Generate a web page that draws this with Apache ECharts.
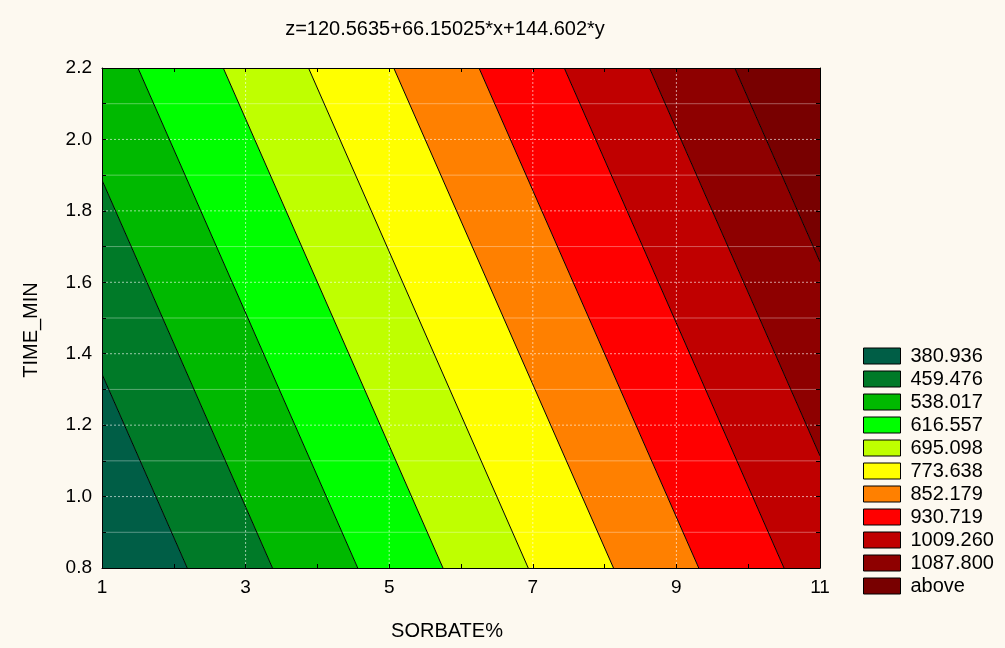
<!DOCTYPE html>
<html>
<head>
<meta charset="utf-8">
<script src="https://cdn.jsdelivr.net/npm/echarts@6/dist/echarts.min.js"></script>
<style>
html,body{margin:0;padding:0;background:#FDF9F0;}
#chart{width:1005px;height:648px;}
</style>
</head>
<body>
<div id="chart"></div>
<script>
// ---- data ----
const titleText = 'z=120.5635+66.15025*x+144.602*y';
const coefConst = 120.5635;
const coefX = 66.15025;
const coefY = 144.602;
const xRange = [1, 11];
const yRange = [0.8, 2.2];
const levels = [380.936, 459.476, 538.017, 616.557, 695.098, 773.638, 852.179, 930.719, 1009.260, 1087.800];
const levelLabels = ['380.936', '459.476', '538.017', '616.557', '695.098', '773.638', '852.179', '930.719', '1009.260', '1087.800', 'above'];
const bandColors = ['#005E46', '#007A28', '#00B900', '#00FF00', '#BFFF00', '#FFFF00', '#FF8000', '#FF0000', '#C00000', '#8E0000', '#780000'];
const xLabelValues = [1, 3, 5, 7, 9, 11];
const yLabelValues = ['0.8', '1.0', '1.2', '1.4', '1.6', '1.8', '2.0', '2.2'];
const xMajorGrid = [3, 5, 7, 9];
const yMajorGrid = [1.0, 1.2, 1.4, 1.6, 1.8, 2.0];
const yMinorGrid = [0.9, 1.1, 1.3, 1.5, 1.7, 1.9, 2.1];
const xName = 'SORBATE%';
const yName = 'TIME_MIN';

const FONT = '"Liberation Sans", Arial, sans-serif';

function zOf(p) { return coefConst + coefX * p[0] + coefY * p[1]; }

function clipHalf(poly, f) {
  const out = [];
  for (let i = 0; i < poly.length; i++) {
    const a = poly[i], b = poly[(i + 1) % poly.length];
    const fa = f(a), fb = f(b);
    if (fa >= 0) out.push(a);
    if ((fa >= 0) !== (fb >= 0)) {
      const t = fa / (fa - fb);
      out.push([a[0] + t * (b[0] - a[0]), a[1] + t * (b[1] - a[1])]);
    }
  }
  return out;
}

function bandPolygon(i) {
  let poly = [[xRange[0], yRange[0]], [xRange[1], yRange[0]], [xRange[1], yRange[1]], [xRange[0], yRange[1]]];
  const lo = i === 0 ? -Infinity : levels[i - 1];
  const hi = i < levels.length ? levels[i] : Infinity;
  if (isFinite(lo)) poly = clipHalf(poly, p => zOf(p) - lo);
  if (isFinite(hi)) poly = clipHalf(poly, p => hi - zOf(p));
  return poly;
}

function levelSegment(l) {
  const pts = [];
  [xRange[0], xRange[1]].forEach(x => {
    const y = (l - coefConst - coefX * x) / coefY;
    if (y >= yRange[0] && y <= yRange[1]) pts.push([x, y]);
  });
  [yRange[0], yRange[1]].forEach(y => {
    const x = (l - coefConst - coefY * y) / coefX;
    if (x > xRange[0] && x < xRange[1]) pts.push([x, y]);
  });
  return pts;
}

const series = [];
levelLabels.forEach((name, i) => {
  series.push({
    type: 'custom',
    name: name,
    coordinateSystem: 'cartesian2d',
    clip: true,
    z: 1,
    silent: true,
    itemStyle: { color: bandColors[i] },
    data: [[xRange[0], yRange[0]]],
    renderItem: function (params, api) {
      const poly = bandPolygon(i);
      if (poly.length < 3) return null;
      return {
        type: 'polygon',
        shape: { points: poly.map(p => api.coord(p)) },
        style: { fill: bandColors[i], stroke: null }
      };
    }
  });
});

// grid lines over the fill
const gridData = [];
xMajorGrid.forEach(v => gridData.push([v, 0, 1]));
yMajorGrid.forEach(v => gridData.push([v, 1, 1]));
yMinorGrid.forEach(v => gridData.push([v, 1, 0]));
series.push({
  type: 'custom',
  name: '_grid',
  coordinateSystem: 'cartesian2d',
  clip: true,
  z: 2,
  silent: true,
  data: gridData,
  renderItem: function (params, api) {
    const v = api.value(0), dir = api.value(1), major = api.value(2);
    let a, b;
    if (dir === 0) { a = api.coord([v, yRange[0]]); b = api.coord([v, yRange[1]]); }
    else { a = api.coord([xRange[0], v]); b = api.coord([xRange[1], v]); }
    return {
      type: 'line',
      shape: { x1: a[0], y1: a[1], x2: b[0], y2: b[1] },
      style: major ? { stroke: 'rgba(255,255,255,0.6)', lineWidth: 1, lineDash: [2, 2] }
                   : { stroke: 'rgba(255,255,255,0.35)', lineWidth: 1 }
    };
  }
});

// contour lines
series.push({
  type: 'custom',
  name: '_contours',
  coordinateSystem: 'cartesian2d',
  clip: true,
  z: 3,
  silent: true,
  data: levels.map(l => [l, 0]),
  renderItem: function (params, api) {
    const seg = levelSegment(levels[params.dataIndex]);
    if (seg.length < 2) return null;
    const a = api.coord(seg[0]), b = api.coord(seg[1]);
    return {
      type: 'line',
      shape: { x1: a[0], y1: a[1], x2: b[0], y2: b[1] },
      style: { stroke: '#000', lineWidth: 1 }
    };
  }
});

const axisCommon = {
  type: 'value',
  z: 10,
  axisLine: { show: true, onZero: false, lineStyle: { color: '#000', width: 1 } },
  axisTick: { show: true, inside: true, length: 4, lineStyle: { color: '#000' } },
  splitLine: { show: false }
};

const option = {
  backgroundColor: '#FDF9F0',
  animation: false,
  grid: { left: 102, top: 68, right: 185, bottom: 80, show: false },
  xAxis: [
    Object.assign({}, axisCommon, {
      position: 'bottom', min: xRange[0], max: xRange[1], interval: 1,
      axisLabel: {
        show: true, margin: 10, color: '#000', fontSize: 19, fontFamily: FONT,
        formatter: v => (xLabelValues.indexOf(Math.round(v)) >= 0 ? String(Math.round(v)) : '')
      }
    }),
    Object.assign({}, axisCommon, {
      position: 'top', min: xRange[0], max: xRange[1], interval: 1,
      axisLabel: { show: false }
    })
  ],
  yAxis: [
    Object.assign({}, axisCommon, {
      position: 'left', min: yRange[0], max: yRange[1], interval: 0.1,
      axisLabel: {
        show: true, margin: 10, color: '#000', fontSize: 19, fontFamily: FONT,
        formatter: v => { const s = v.toFixed(1); return yLabelValues.indexOf(s) >= 0 ? s : ''; }
      }
    }),
    Object.assign({}, axisCommon, {
      position: 'right', min: yRange[0], max: yRange[1], interval: 0.1,
      axisLabel: { show: false }
    })
  ],
  legend: {
    orient: 'vertical',
    left: 863,
    top: 346,
    padding: 0,
    itemWidth: 37,
    itemHeight: 16,
    itemGap: 3,
    icon: 'rect',
    selectedMode: false,
    data: levelLabels.map(n => ({ name: n, icon: 'rect' })),
    itemStyle: { borderColor: '#000', borderWidth: 1 },
    textStyle: { color: '#000', fontSize: 20, fontFamily: FONT, padding: [0, 0, 0, 5] }
  },
  graphic: [
    { type: 'text', z: 20, x: 445, y: 29,
      style: { text: titleText, textAlign: 'center', textVerticalAlign: 'middle', fill: '#000', font: '20px ' + FONT } },
    { type: 'text', z: 20, x: 447, y: 631,
      style: { text: xName, textAlign: 'center', textVerticalAlign: 'middle', fill: '#000', font: '20px ' + FONT } },
    { type: 'text', z: 20, x: 31, y: 330, rotation: Math.PI / 2,
      style: { text: yName, textAlign: 'center', textVerticalAlign: 'middle', fill: '#000', font: '20px ' + FONT } }
  ],
  series: series
};

const chart = echarts.init(document.getElementById('chart'), null, { renderer: 'canvas' });
chart.setOption(option);
</script>
</body>
</html>
